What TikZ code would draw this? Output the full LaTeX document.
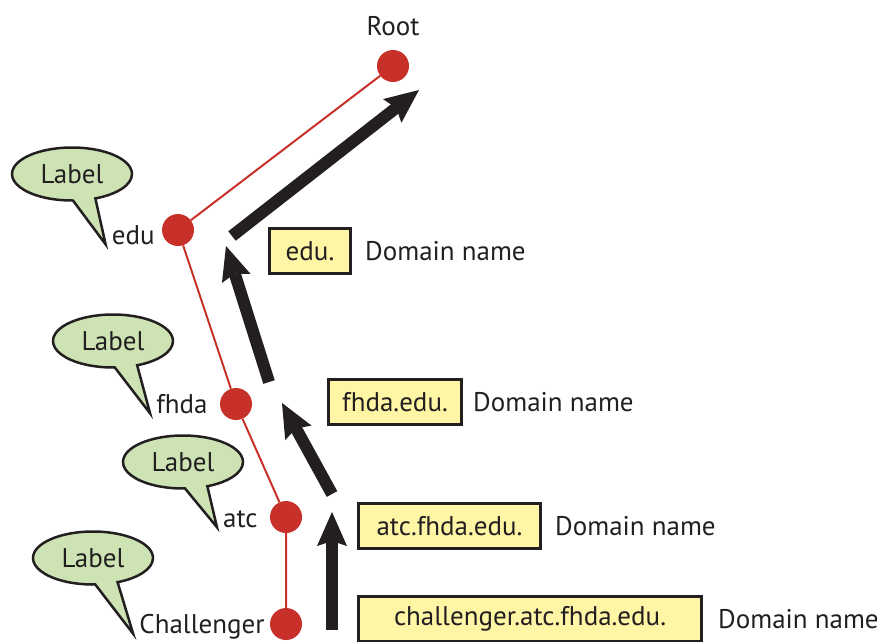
\documentclass[tikz,border=0pt]{standalone}
\usepackage{fontspec}
\setmainfont{PT Sans}
\usetikzlibrary{positioning,shapes.callouts,arrows.meta}
\definecolor{branchred}{RGB}{200, 49, 41}
\definecolor{labelgreen}{RGB}{205, 227, 180}
\definecolor{boxyellow}{RGB}{255, 246, 165}
\definecolor{textdark}{RGB}{35, 31, 32}

\begin{document}
\begin{tikzpicture}[
    x=1pt, y=-1pt,
    font=\fontsize{27}{32}\selectfont,
    text=textdark,
    dot/.style={
        circle, fill=branchred,
        minimum size=32pt, inner sep=0pt
    },
    branch/.style={
        draw=branchred, line width=2pt
    },
    nodename/.style={
        inner xsep=6pt, inner ysep=0pt
    },
    bubble/.style={
        ellipse callout,
        draw=textdark, line width=2.5pt,
        fill=labelgreen,
        minimum width=120pt, minimum height=53pt,
        inner sep=0pt,
        callout pointer arc=22
    },
    dnbox/.style={
        rectangle, anchor=west,
        draw=textdark, line width=3pt,
        fill=boxyellow,
        minimum height=45pt, inner xsep=4pt,
        minimum width=#1
    },
    dnlabel/.style={
        inner sep=0pt
    },
    climb/.style={
        draw=textdark, line width=12pt,
        -{Stealth[length=34pt, width=30pt, inset=5pt, line width=0pt]}
    }
]
\useasboundingbox (0,0) rectangle (882,641);

% Tree dots
\node[dot] at (393,66) (root) {};
\node[dot] at (178,230) (edu) {};
\node[dot] at (236,404) (fhda) {};
\node[dot] at (286,517) (atc) {};
\node[dot] at (286,624) (challenger) {};

% Branches
\draw[branch] (root) -- (edu) -- (fhda) -- (atc) -- (challenger);

% Node names
\node[dnlabel, above=14pt of root] (rootname) {Root};
\node[nodename, left=1pt of edu, yshift=-5pt] (eduname) {edu};
\node[nodename, left=6pt of fhda] (fhdaname) {fhda};
\node[nodename, left=6pt of atc, yshift=-2pt] (atcname) {atc};
\node[nodename, left=-1pt of challenger, yshift=-3pt] (challengername) {Challenger};

% Label bubbles
\node[bubble, callout absolute pointer={(eduname.base west)}] at (72,174) (edulabel) {Label};
\node[bubble, callout absolute pointer={(fhdaname.base west)}] at (113,341) (fhdalabel) {Label};
\node[bubble, callout absolute pointer={(atcname.base west)}] at (183,462) (atclabel) {Label};
\node[bubble, callout absolute pointer={(challengername.base west)}] at (93,558) (challengerlabel) {Label};

% Domain name boxes
\node[dnbox=81pt] at (268,251) (edudn) {edu.};
\node[dnbox=133pt] at (327,402) (fhdadn) {fhda.edu.};
\node[dnbox=182pt] at (357,526) (atcdn) {atc.fhda.edu.};
\node[dnbox=343pt] at (357,619) (challengerdn) {challenger.atc.fhda.edu.};

\node[dnlabel, right=13pt of edudn] (edudesc) {Domain name};
\node[dnlabel, right=10pt of fhdadn] (fhdadesc) {Domain name};
\node[dnlabel, right=13pt of atcdn] (atcdesc) {Domain name};
\node[dnlabel, right=15pt of challengerdn] (challengerdesc) {Domain name};

% === CLIMB ARROWS ===
\coordinate (up1s) at (332,630);
\coordinate (up1e) at (332,512);
\coordinate (up2s) at (332,494);
\coordinate (up2e) at (282,403);
\coordinate (up3s) at (269,382);
\coordinate (up3e) at (226,246);
\coordinate (up4s) at (232,236);
\coordinate (up4e) at (419,90);

\draw[climb] (up1s) -- (up1e);
\draw[climb] (up2s) -- (up2e);
\draw[climb] (up3s) -- (up3e);
\draw[climb] (up4s) -- (up4e);

\end{tikzpicture}
\end{document}
